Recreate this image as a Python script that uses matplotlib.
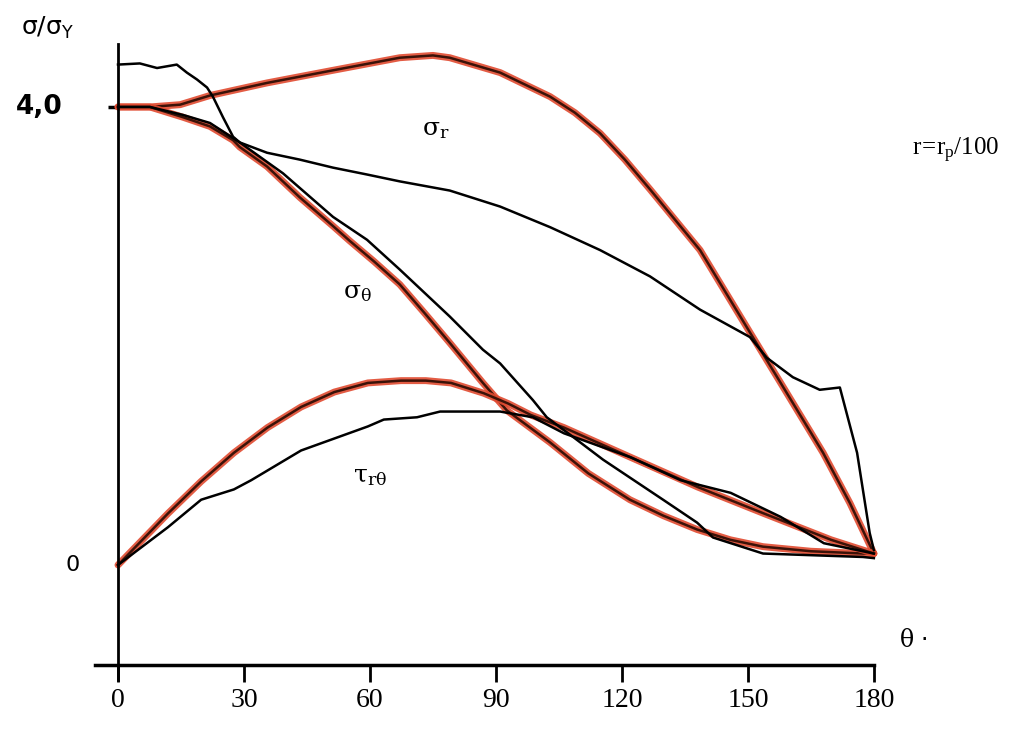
import matplotlib.pyplot as plt

# angle (deg) and stress ratio sigma/sigma_Y
# red = analytical, black = numerical
theta_sr_red = [0, 7.6, 14.8, 21.9, 35.5, 51.2, 67.1, 75, 79, 91, 102.9, 108.8, 114.8, 120.7, 126.7, 138.6, 150.5, 158.3, 167.9, 174.3, 180]
sr_red = [4.0, 4.0, 4.02, 4.10, 4.21, 4.32, 4.43, 4.45, 4.43, 4.30, 4.09, 3.95, 3.77, 3.54, 3.28, 2.75, 2.03, 1.56, 0.98, 0.54, 0.10]

theta_sr_num = [0, 5.2, 9.3, 14.0, 16.4, 18.8, 21.2, 22.6, 25.0, 27.4, 29.0, 35.5, 43.3, 51.2, 59.3, 67.1, 79.0,
                91.0, 102.9, 114.8, 126.7, 138.6, 150.5, 154.5, 160.7, 167.1, 171.9, 176.0, 179.0, 180]
sr_num = [4.37, 4.38, 4.34, 4.37, 4.30, 4.24, 4.17, 4.09, 3.91, 3.74, 3.69, 3.60, 3.54, 3.47, 3.41, 3.35, 3.27,
          3.13, 2.95, 2.75, 2.52, 2.23, 1.99, 1.81, 1.64, 1.53, 1.55, 0.98, 0.28, 0.13]

theta_st_red = [0, 7.6, 15.5, 21.9, 27.4, 29.0, 35.5, 43.3, 51.2, 55.2, 61.0, 67.1, 73.0, 79.0, 86.9, 92.6, 102.9,
                112.0, 121.9, 129.9, 137.9, 145.8, 153.6, 165.0, 177.4, 180]
st_red = [4.0, 4.0, 3.91, 3.83, 3.71, 3.65, 3.48, 3.21, 2.96, 2.83, 2.65, 2.45, 2.20, 1.94, 1.59, 1.35, 1.07,
          0.80, 0.57, 0.43, 0.31, 0.22, 0.16, 0.12, 0.10, 0.10]

theta_st_num = [0, 7.6, 15.5, 21.9, 29.0, 39.3, 51.2, 59.3, 67.1, 79.0, 86.9, 91.0, 98.8, 102.1, 108.3, 115.5,
                129.8, 137.9, 141.7, 153.6, 177.4, 180]
st_num = [4.0, 4.0, 3.93, 3.86, 3.69, 3.42, 3.04, 2.84, 2.58, 2.17, 1.88, 1.76, 1.44, 1.29, 1.12, 0.92,
          0.57, 0.37, 0.24, 0.10, 0.07, 0.06]

theta_tau_red = [0, 11.9, 19.8, 27.6, 35.6, 43.6, 51.5, 59.5, 67.4, 73.3, 79.3, 87.1, 92.9, 98.3, 106.2, 122.1, 138.1, 153.8, 169.8, 180]
tau_red = [0, 0.45, 0.73, 0.98, 1.20, 1.38, 1.51, 1.59, 1.61, 1.61, 1.59, 1.50, 1.41, 1.31, 1.20, 0.94, 0.68, 0.45, 0.22, 0.10]

theta_tau_num = [0, 11.9, 19.8, 27.6, 31.7, 43.6, 59.5, 63.3, 71.2, 76.7, 91.0, 98.8, 106.2, 122.1, 134.0,
                 145.9, 157.8, 168.1, 180]
tau_num = [0, 0.33, 0.57, 0.66, 0.74, 1.00, 1.21, 1.27, 1.29, 1.34, 1.34, 1.29, 1.15, 0.94, 0.74,
           0.63, 0.42, 0.19, 0.10]

x_ticks = [0, 30, 60, 90, 120, 150, 180]

fig = plt.figure(figsize=(10.28, 7.3), dpi=100)
ax = fig.add_axes([0, 0, 1, 1])
ax.set_xlim(-28.1, 216.7)
ax.set_ylim(-1.441, 4.934)

# analytical curves: red band with a dark core
for th, v in [(theta_sr_red, sr_red), (theta_st_red, st_red), (theta_tau_red, tau_red)]:
    ax.plot(th, v, color='#e04a30', lw=5, solid_capstyle='round', solid_joinstyle='round', alpha=0.9)
    ax.plot(th, v, color='#3b1208', lw=1.8, solid_joinstyle='round')

# numerical curves
for th, v in [(theta_sr_num, sr_num), (theta_st_num, st_num), (theta_tau_num, tau_num)]:
    ax.plot(th, v, color='black', lw=1.8, solid_joinstyle='round')

# hand-drawn style axes
for s in ['top', 'right']:
    ax.spines[s].set_visible(False)
ax.spines['left'].set_position(('data', 0))
ax.spines['left'].set_bounds(-1.0, 4.55)
ax.spines['bottom'].set_position(('data', -0.87))
ax.spines['bottom'].set_bounds(-5.5, 180)
ax.spines['left'].set_linewidth(2)
ax.spines['bottom'].set_linewidth(2.5)

ax.set_xticks(x_ticks)
ax.set_xticklabels([str(t) for t in x_ticks])
ax.tick_params(axis='x', direction='out', length=12, width=2, pad=5, labelsize=20)
for lbl in ax.get_xticklabels():
    lbl.set_family('Liberation Serif')
ax.set_yticks([4.0])
ax.set_yticklabels([''])
ax.tick_params(axis='y', direction='out', length=7, width=2.5)

ax.text(-13.3, 4.0, '4,0', fontsize=19, fontweight='bold', ha='right', va='center', family='DejaVu Sans')
ax.text(-9.2, 0.0, '0', fontsize=16, ha='right', va='center', family='DejaVu Sans')
ax.text(-23, 4.69, r'$\mathregular{\sigma/\sigma_Y}$', fontsize=18, ha='left', va='center', family='DejaVu Sans')
ax.text(186, -0.66, r'$\mathregular{\theta}$ $\cdot$', fontsize=17, ha='left', va='center', family='DejaVu Serif')
ax.text(72.5, 3.80, r'$\mathregular{\sigma_r}$', fontsize=18, ha='left', va='center', family='DejaVu Serif')
ax.text(53.5, 2.38, r'$\mathregular{\sigma_\theta}$', fontsize=18, ha='left', va='center', family='DejaVu Serif')
ax.text(56, 0.77, r'$\mathregular{\tau_{r\theta}}$', fontsize=18, ha='left', va='center', family='DejaVu Serif')
ax.text(189, 3.62, r'$\mathregular{r\!=\!r_p/100}$', fontsize=18, ha='left', va='center', family='Liberation Serif')

fig.savefig('out.png', dpi=100)
